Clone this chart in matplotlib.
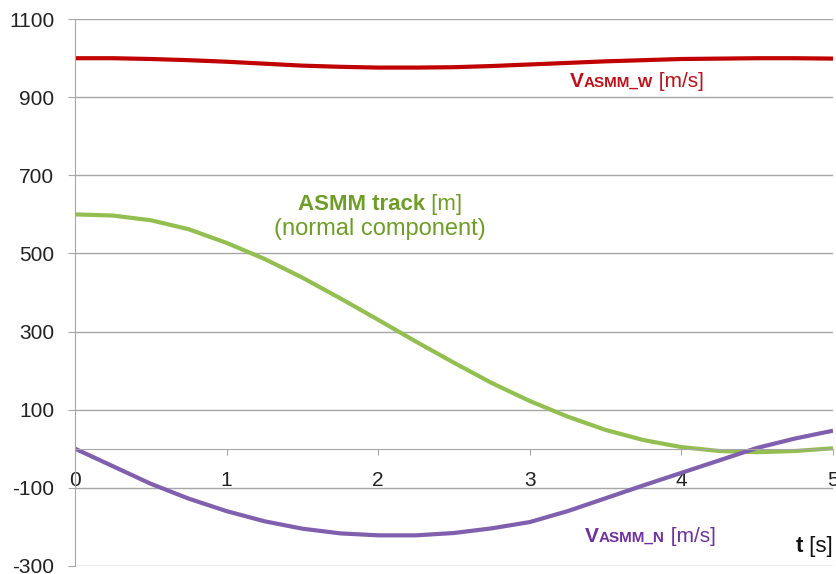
import matplotlib
matplotlib.use("Agg")
import matplotlib.pyplot as plt
from matplotlib import transforms

plt.rcParams["font.family"] = ["Liberation Sans", "DejaVu Sans"]
plt.rcParams["axes.unicode_minus"] = False

# time samples [s]
t = [0.0, 0.25, 0.5, 0.75, 1.0, 1.25, 1.5, 1.75, 2.0, 2.25, 2.5,
     2.75, 3.0, 3.25, 3.5, 3.75, 4.0, 4.25, 4.5, 4.75, 5.0]

v_asmm_w = [1000, 1000, 998, 995, 991, 986, 981, 978, 976, 976, 977,
            980, 984, 988, 992, 995, 998, 999, 1000, 1000, 999]
track_normal = [600, 597, 585, 562, 527, 486, 438, 385, 330, 274, 220,
                168, 122, 82, 48, 22, 4, -6, -9, -6, 1]
v_asmm_n = [0, -45, -90, -128, -160, -186, -205, -217, -222, -222, -216,
            -204, -188, -160, -127, -94, -62, -30, 2, 26, 46]

y_ticks = [-300, -100, 100, 300, 500, 700, 900, 1100]
x_ticks = [0, 1, 2, 3, 4, 5]

red, green, purple = "#c00000", "#92bf4f", "#7f5fae"
red_txt, green_txt, purple_txt = "#c0101a", "#6e9e25", "#7030a0"
grid_c = "#a6a6a6"

fig = plt.figure(figsize=(8.37, 5.74), dpi=100)
ax = fig.add_axes([0.0896, 0.0143, 0.9056, 0.9523])

ax.plot(t, v_asmm_w, color=red, lw=3.0, solid_capstyle="butt")
ax.plot(t, track_normal, color=green, lw=3.0, solid_capstyle="butt")
ax.plot(t, v_asmm_n, color=purple, lw=3.0, solid_capstyle="butt")

ax.set_xlim(0, 5)
ax.set_ylim(-300, 1100)
ax.set_yticks(y_ticks)
ax.set_xticks(x_ticks)
ax.yaxis.grid(True, color=grid_c, lw=1.0)
ax.set_axisbelow(True)

for s in ["top", "right"]:
    ax.spines[s].set_visible(False)
ax.spines["left"].set_color(grid_c)
ax.spines["bottom"].set_color(grid_c)
ax.spines["bottom"].set_position(("data", 0))

ax.tick_params(axis="y", length=5, color=grid_c, labelsize=15, pad=10,
               labelcolor="#222222")
ax.tick_params(axis="x", length=4.3, color=grid_c, labelsize=15, pad=12,
               labelcolor="#222222")

renderer = fig.canvas.get_renderer()


def label_runs(x, y, runs, color, align="left"):
    """Draw text pieces side by side on one baseline: runs = [(str, size, weight)]."""
    pieces = []
    for s, size, weight in runs:
        txt = ax.text(x, y, s, fontsize=size, fontweight=weight, color=color,
                      ha="left", va="baseline")
        pieces.append(txt)
    widths = [p.get_window_extent(renderer).width * 72 / fig.dpi for p in pieces]
    start = 0.0
    if align == "center":
        start = -sum(widths) / 2
    elif align == "right":
        start = -sum(widths)
    off = start
    for p, w in zip(pieces, widths):
        p.set_transform(transforms.offset_copy(ax.transData, fig=fig, x=off, y=0,
                                               units="points"))
        off += w


label_runs(3.265, 927, [("V", 15, "bold"), ("ASMM_W", 11, "bold"),
                        (" [m/s]", 15, "normal")], red_txt)
label_runs(2.01, 612, [("ASMM track", 16, "bold"), (" [m]", 16, "normal")],
           green_txt, align="center")
ax.text(2.01, 548, "(normal component)", color=green_txt,
        fontsize=17, ha="center", va="baseline")
label_runs(3.364, -238, [("V", 15, "bold"), ("ASMM_N", 11, "bold"),
                         (" [m/s]", 15, "normal")], purple_txt)
label_runs(5.0, -264, [("t", 16, "bold"), (" [s]", 16, "normal")],
           "#111111", align="right")

fig.savefig("out.png", dpi=100)
